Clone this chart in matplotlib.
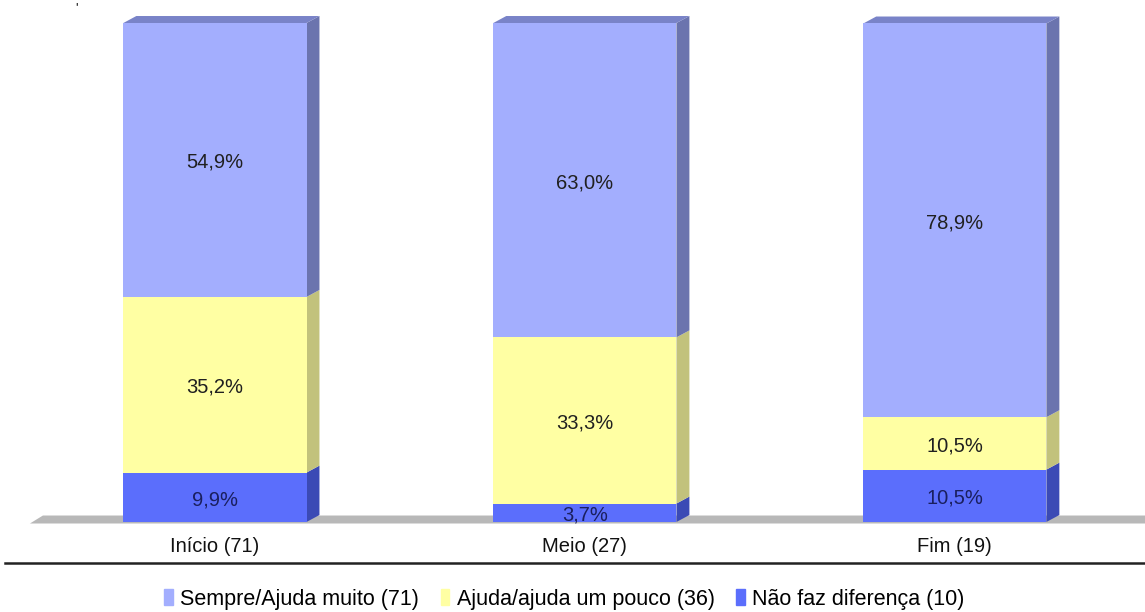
import matplotlib.pyplot as plt
import matplotlib.patches as mpatches
from matplotlib.patches import Polygon
from matplotlib.lines import Line2D

plt.rcParams['font.family'] = ['Liberation Sans', 'DejaVu Sans']

# Dados (percentuais por fase)
categorias = ['Início (71)', 'Meio (27)', 'Fim (19)']
sempre = [54.9, 63.0, 78.9]
ajuda = [35.2, 33.3, 10.5]
nao_faz = [9.9, 3.7, 10.5]
legendas = ['Sempre/Ajuda muito (71)', 'Ajuda/ajuda um pouco (36)', 'Não faz diferença (10)']

# cores: frente, lateral, topo
cores = {
    'sempre': ('#a3aefe', '#6b74ae', '#7983c8'),
    'ajuda': ('#ffffa3', '#c2c27c', '#d8d88c'),
    'nao': ('#5b6efc', '#3b4ab5', '#4656cc'),
}
cor_texto = {'sempre': '#202020', 'ajuda': '#202020', 'nao': '#1a1f5e'}

largura = 0.495
dx, dy = 0.035, 1.4   # profundidade do efeito 3D

fig = plt.figure(figsize=(11.45, 6.12), dpi=100)
ax = fig.add_axes([0, 90 / 612, 1, 499 / 612])
ax.set_xlim(-0.581, 2.514)
ax.set_ylim(0, 100)
ax.axis('off')

# piso cinza
piso = Polygon([(-0.50, -0.3), (-0.50 + dx, 1.3), (2.6, 1.3), (2.6, -0.3)],
               closed=True, facecolor='#b8b8b8', edgecolor='none', zorder=1, clip_on=False)
ax.add_patch(piso)

series = [('nao', nao_faz), ('ajuda', ajuda), ('sempre', sempre)]
base = [0.0] * len(categorias)
for chave, valores in series:
    frente, lado, topo = cores[chave]
    for i, v in enumerate(valores):
        y0 = base[i]
        y1 = y0 + v
        ax.bar(i, v, bottom=y0, width=largura, color=frente, edgecolor='none', zorder=3)
        xr = i + largura / 2
        lateral = Polygon([(xr, y0), (xr + dx, y0 + dy), (xr + dx, y1 + dy), (xr, y1)],
                          closed=True, facecolor=lado, edgecolor='none', zorder=2, clip_on=False)
        ax.add_patch(lateral)
        if chave == 'sempre':
            xl = i - largura / 2
            tampa = Polygon([(xl, y1), (xl + dx, y1 + dy), (xr + dx, y1 + dy), (xr, y1)],
                            closed=True, facecolor=topo, edgecolor='none', zorder=2, clip_on=False)
            ax.add_patch(tampa)
        ax.text(i, y0 + v / 2 - 0.5, f'{v:.1f}%'.replace('.', ','), ha='center', va='center',
                fontsize=14.5, color=cor_texto[chave], zorder=5)
        base[i] = y1

# rótulos das categorias
for i, c in enumerate(categorias):
    ax.text(i, -5, c, ha='center', va='center', fontsize=14.5, color='#111111', clip_on=False)

# linha separadora e marca no topo
fig.add_artist(Line2D([5 / 1145, 1], [1 - 563 / 612] * 2, color='#222222', lw=1.8))
fig.text(77 / 1145, 1 - 8 / 612, "'", ha='center', va='center', fontsize=9, color='black')

# Legenda
handles = [mpatches.Patch(color=cores[k][0], label=l)
           for k, l in zip(['sempre', 'ajuda', 'nao'], legendas)]
fig.legend(handles=handles, loc='center', bbox_to_anchor=(0.493, 1 - 599 / 612), ncol=3,
           frameon=False, fontsize=15.5, handlelength=0.4, handleheight=0.8,
           handletextpad=0.35, columnspacing=1.0)

fig.savefig('out.png', dpi=100)
